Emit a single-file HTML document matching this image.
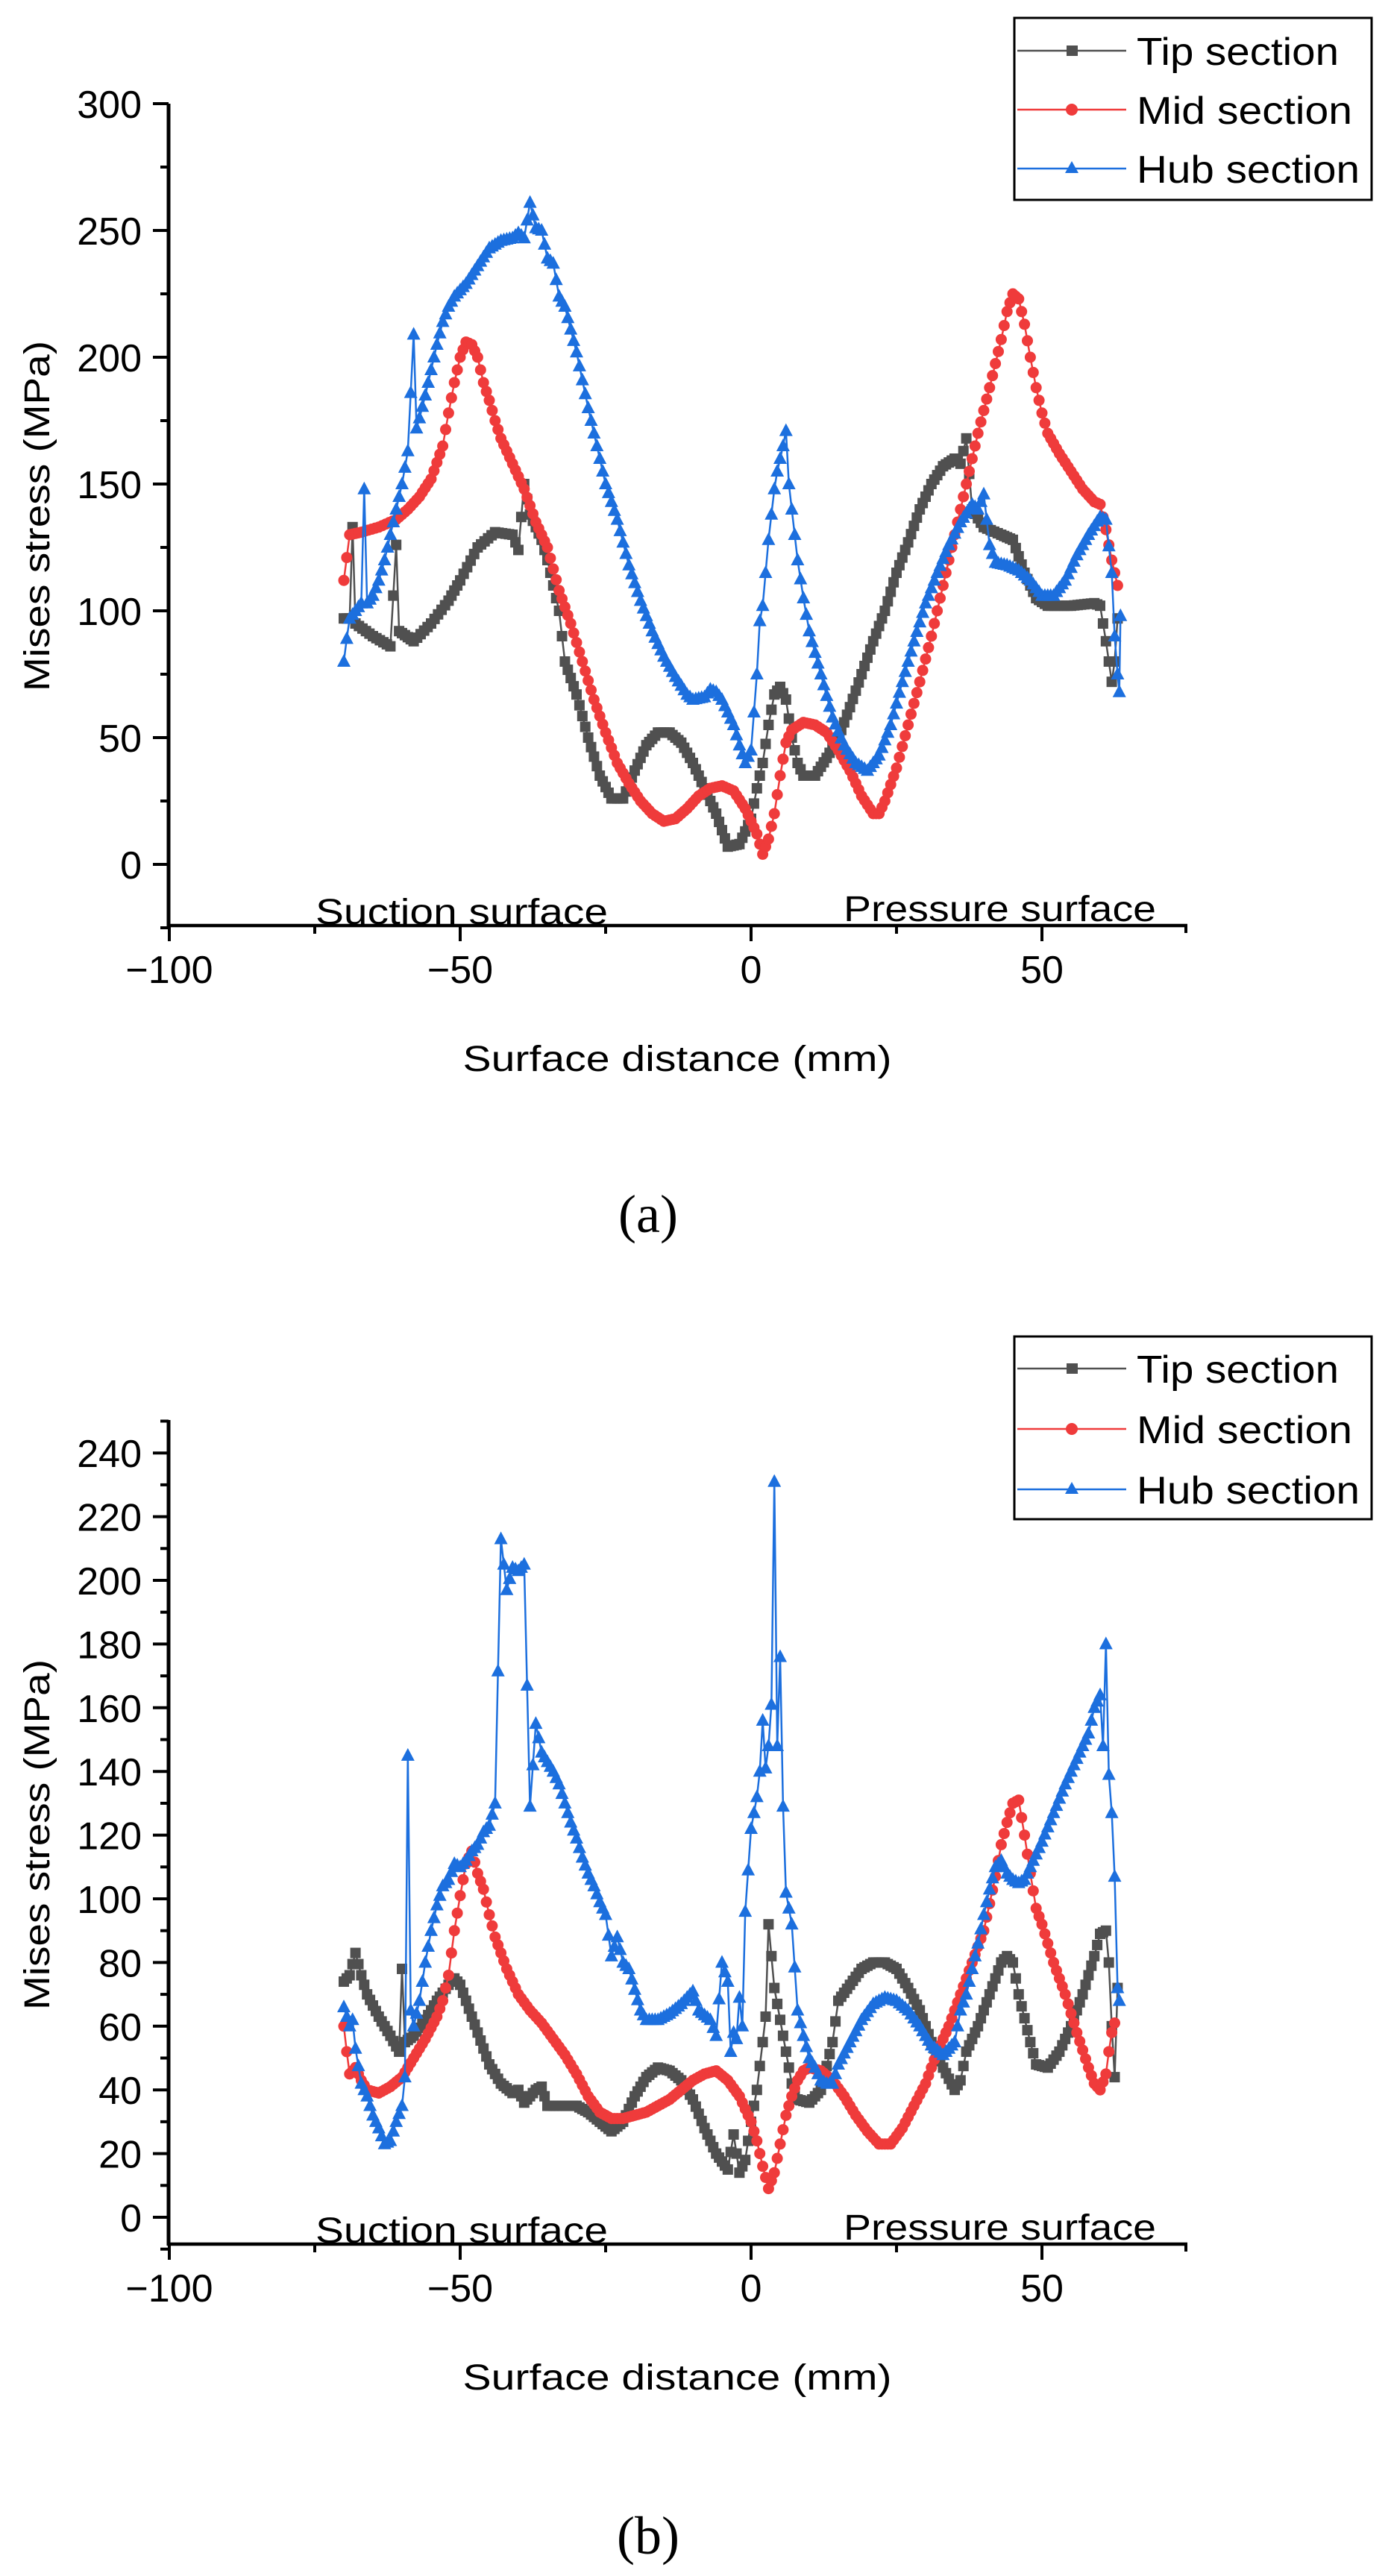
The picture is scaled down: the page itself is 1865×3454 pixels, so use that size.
<!DOCTYPE html>
<html><head><meta charset="utf-8">
<style>
html,body{margin:0;padding:0;background:#fff;}
svg{display:block;}
text{font-family:"Liberation Sans","Noto Sans CJK JP",sans-serif;fill:#000;}
</style></head>
<body>
<svg id="s" width="1865" height="3454" viewBox="0 0 1865 3454" xmlns="http://www.w3.org/2000/svg">
<rect width="1865" height="3454" fill="#fff"/>
<g id="ga"></g>
<g id="gb"></g>
<text x="869" y="1652" text-anchor="middle" style="font-family:'Liberation Serif',serif;font-size:72px">(a)</text>
<text x="869" y="3424" text-anchor="middle" style="font-family:'Liberation Serif',serif;font-size:72px">(b)</text>
</svg>
<script>
var NS="http://www.w3.org/2000/svg";
function el(p,t,a,txt){var e=document.createElementNS(NS,t);for(var k in a)e.setAttribute(k,a[k]);if(txt!==undefined)e.textContent=txt;p.appendChild(e);return e;}
function X(v){return 227+7.8*(v+100);}
function P(str){return str.trim().split(/\s*,\s*/).map(function(s){var q=s.split(':');return [+q[0],+q[1]];});}
function dens(pts){var o=[];for(var i=0;i<pts.length;i++){o.push(pts[i]);if(i<pts.length-1){var a=pts[i],b=pts[i+1],d=b[0]-a[0];var n=Math.round(d/0.55);for(var j=1;j<n;j++){var t=j/n;o.push([a[0]+d*t,a[1]+(b[1]-a[1])*t]);}}}return o;}
var C={tip:"#505050",mid:"#ef3b3b",hub:"#1c6fde"};
function series(g,pts,Y,kind){
  var col=C[kind];var d=pts.map(function(p,i){return (i?"L":"M")+X(p[0]).toFixed(1)+" "+Y(p[1]).toFixed(1);}).join("");
  el(g,"path",{d:d,fill:"none",stroke:col,"stroke-width":2.5});
  dens(pts).forEach(function(p){var x=X(p[0]),y=Y(p[1]);
    if(kind=="tip")el(g,"rect",{x:x-7,y:y-7,width:14,height:14,fill:col});
    else if(kind=="mid")el(g,"circle",{cx:x,cy:y,r:7.5,fill:col});
    else el(g,"path",{d:"M"+x+" "+(y-10)+"L"+(x+9)+" "+(y+7)+"L"+(x-9)+" "+(y+7)+"Z",fill:col});
  });
}
function chart(g,o){
  var Y=o.Y;
  el(g,"line",{x1:226,y1:o.top,x2:226,y2:o.bot+2,stroke:"#000","stroke-width":5});
  el(g,"line",{x1:224,y1:o.bot,x2:1592,y2:o.bot,stroke:"#000","stroke-width":4.5});
  el(g,"line",{x1:1590,y1:o.bot,x2:1590,y2:o.bot+10,stroke:"#000","stroke-width":4});
  [-100,-50,0,50].forEach(function(v){var x=X(v);el(g,"line",{x1:x,y1:o.bot,x2:x,y2:o.bot+21,stroke:"#000","stroke-width":4});
    el(g,"text",{x:x,y:o.bot+77,"text-anchor":"middle","font-size":52},v<0?"\u2212"+(-v):""+v);});
  [-75,-25,25].forEach(function(v){var x=X(v);el(g,"line",{x1:x,y1:o.bot,x2:x,y2:o.bot+11,stroke:"#000","stroke-width":4});});
  for(var v=o.y0;v<=o.y1+0.01;v+=o.minor){var y=Y(v);var maj=Math.abs(v/o.major-Math.round(v/o.major))<1e-6;
    el(g,"line",{x1:226,y1:y,x2:maj?205:215,y2:y,stroke:"#000","stroke-width":4});
    if(maj&&v>=0)el(g,"text",{x:190,y:y+19,"text-anchor":"end","font-size":52},""+v);}
  el(g,"text",{x:0,y:0,"font-size":48,"text-anchor":"middle",transform:"translate(66,"+o.ymid+") rotate(-90)",textLength:470,lengthAdjust:"spacingAndGlyphs"},"Mises stress (MPa)");
  el(g,"text",{x:908,y:o.bot+195,"font-size":48,"text-anchor":"middle",textLength:575,lengthAdjust:"spacingAndGlyphs"},"Surface distance (mm)");
  el(g,"text",{x:423,y:o.bot-2,"font-size":48,textLength:392,lengthAdjust:"spacingAndGlyphs"},"Suction surface");
  el(g,"text",{x:1131,y:o.bot-6,"font-size":48,textLength:419,lengthAdjust:"spacingAndGlyphs"},"Pressure surface");
  el(g,"rect",{x:1360,y:o.lt,width:479,height:o.lh,fill:"#fff",stroke:"#000","stroke-width":3});
  var names=[["tip","Tip section",271],["mid","Mid section",289],["hub","Hub section",299]];
  names.forEach(function(n,i){var y=o.lr[i],col=C[n[0]];
    el(g,"line",{x1:1364,y1:y,x2:1510,y2:y,stroke:col,"stroke-width":2.5});
    if(i==0)el(g,"rect",{x:1430,y:y-7,width:15,height:14,fill:col});
    else if(i==1)el(g,"circle",{cx:1437,cy:y,r:8,fill:col});
    else el(g,"path",{d:"M1437 "+(y-10)+"L1446 "+(y+6)+"L1428 "+(y+6)+"Z",fill:col});
    el(g,"text",{x:1524,y:y+19,"font-size":52,textLength:n[2],lengthAdjust:"spacingAndGlyphs"},n[1]);});
  series(g,o.tip,Y,"tip");series(g,o.mid,Y,"mid");series(g,o.hub,Y,"hub");
}
var A={top:139,bot:1241,Y:function(v){return 1159-3.4*v;},y0:-25,y1:300,minor:25,major:50,ymid:692,lt:24,lh:244,lr:[68,147,226],
tip:P("-70:97,-69:97,-68.5:133,-68:95,-65:90,-62:86,-61:126,-60.5:92,-58:88,-55:95,-52:104,-50:112,-47:125,-44:131,-41:130,-40:124,-39:150,-38:138,-36:128,-35:120,-33:100,-32:80,-30:67,-28:50,-26:35,-24:26,-22:26,-20:37,-18:47,-16:52,-14:52,-12:48,-10:40,-8:30,-6:20,-4:7,-2:8,0:18,1:30,2:40,3:55,4:67,5:70,6:65,7:50,8:40,9:35,11:35,13:42,15:50,17:62,19:75,21:88,23:100,25:115,27:127,29:140,31:150,33:157,35:160,36:158,37:168,38:140,40:133,43:130,45:128,47:115,49:105,51:102,55:102,59:103,60:102,61:88,62:72,62.5:80,63:97"),
mid:P("-70:112,-69.5:121,-69:130,-67:131,-64:133,-61:136,-59:140,-57:145,-55:152,-53:165,-52:178,-51:190,-50:200,-49:206,-48:205,-47:200,-46:190,-45:183,-44:175,-43:168,-41:158,-39:148,-37:135,-35:125,-33:108,-31:95,-29:80,-27:65,-25:52,-23:40,-21:32,-19:25,-17:20,-15:17,-13:18,-11:22,-9:27,-7:30,-5:31,-3:29,-1:22,1:12,2:4,3:10,4:20,5:35,6:48,7:53,9:56,11:55,13:52,15:45,17:37,19:27,21:20,22:20,23:25,25:38,27:55,29:72,31:90,33:110,35:130,37:150,39:170,41:188,43:207,44:218,45:225,46:223,47:213,48:200,49:188,50:178,51:170,53:162,55:155,57:148,59:143,60:142,61:132,62:120,63:110"),
hub:P("-70:80,-69.5:89,-69:97,-68:100,-67:103,-66.5:148,-66:103,-65:106,-64:112,-63:120,-62:130,-61:140,-60:150,-59:163,-58:209,-57.5:172,-57:176,-56:185,-55:195,-54:205,-53:214,-52:220,-51:224,-49:229,-47:236,-45:243,-43:246,-41:247,-40:249,-39:247,-38:261,-37:251,-36:250,-35:239,-34:237,-33:224,-32:220,-31:211,-30:202,-29:191,-28:180,-27:170,-26:160,-25:150,-23:136,-21:118,-19:104,-17:92,-15:82,-13:74,-11:67,-10:65,-8:66,-7:69,-6:68,-5:65,-4:60,-3:55,-2:47,-1:40,0:45,0.5:60,1:75,1.5:96,2:102,3:128,4:148,4.5:155,5:160,5.5:165,6:171,6.5:150,7:140,8:120,9:105,10:92,12:75,14:58,16:47,18:40,20:37,22:43,24:55,26:72,28:88,30:103,32:115,34:126,36:135,38:142,39:140,40:146,41:126,42:119,44:118,46:116,48:112,50:106,52:106,54:112,56:122,58:130,60:137,61:136,62:115,62.5:90,63:75,63.3:68,63.5:98")};
var B={top:1904,bot:3009,Y:function(v){return 2973-4.27*v;},y0:-10,y1:250,minor:10,major:20,ymid:2460,lt:1792,lh:245,lr:[1835,1916,1997],
tip:P("-70:74,-69:76,-68:83,-67:76,-66:70,-64:63,-62:57,-60.5:52,-60:78,-59.5:55,-58:57,-56:62,-54:68,-52:73,-51:75,-50:73,-49:68,-47:58,-45:48,-43:42,-41:39,-40:40,-39:36,-37:40,-36:41,-35:35,-33:35,-30:35,-28:33,-26:30,-24:27,-22:30,-20:38,-18:44,-16:47,-14:46,-12:43,-10:37,-8:28,-6:20,-4:15,-3:26,-2:14,-1:18,0:30,1:40,2:55,2.5:63,3:92,3.5:82,4:72,5:62,6:52,7:42,8:37,10:36,12:40,14:55,15:68,17:73,19:78,21:80,23:80,25:78,27:72,29:65,31:55,33:47,35:40,36:43,37:52,39:60,41:70,43:80,44:82,45:80,46:70,48:55,49:48,51:47,53:52,55:60,57:70,59:82,60:89,61:90,61.5:80,62:60,62.5:44,63:72"),
mid:P("-70:60,-69.5:52,-69:45,-68:47,-67:43,-66:40,-64:39,-62:41,-60:44,-58:50,-56:56,-54:63,-53:68,-52:76,-51:90,-50:101,-49:111,-48:115,-47:108,-46:103,-45:95,-44:88,-42:78,-40:70,-38:65,-36:61,-34:56,-32:51,-30:45,-28:38,-26:33,-24:31,-22:31,-20:32,-18:33,-16:35,-14:37,-12:40,-10:43,-8:45,-6:46,-4:43,-2:38,0:30,1:24,2:16,3:9,4:14,5:23,6:32,7:38,8:43,9:46,10:47,12:46,14:43,16:38,18:32,20:27,22:23,24:23,26:28,28:35,30:42,32:52,34:60,36:70,38:80,40:90,42:107,43:117,44:124,45:130,46:131,47:120,48:108,49:97,50:92,52:80,54:70,56:58,58:47,59:42,60:40,61:45,61.5:52,62:58,62.5:61"),
hub:P("-70:66,-69.5:63,-69:60,-68.5:62,-68:53,-67:42,-66:38,-65:32,-64:28,-63:23,-62:24,-61:30,-60:35,-59.5:44,-59:145,-58.5:65,-58:60,-57:68,-56:80,-55:90,-54:98,-53:104,-52:106,-51:111,-50:110,-49:112,-48:115,-47:117,-46:121,-45:123,-44:130,-43:213,-42:197,-41:204,-40:203,-39:205,-38:129,-37:155,-36:146,-35:143,-34:140,-33:136,-32:130,-31:124,-30:119,-29:113,-28:108,-27:104,-26:99,-25:95,-24:82,-23:88,-22:80,-21:78,-19:65,-18:62,-16:62,-14:64,-12:67,-10:71,-9:65,-7:62,-6:57,-5:80,-4:74,-3.5:52,-3:58,-2.5:56,-2:69,-1.5:60,-1:96,0:122,1:132,1.5:140,2:156,2.5:141,3:148,3.5:161,4:231,4.5:148,5:176,5.5:129,6:102,7:92,8:65,9:57,10:50,11:47,12:43,13:42,14:42,15:48,17:55,19:62,21:67,23:69,25:68,27:65,29:60,31:54,33:51,35:55,36:65,37:70,38:78,39:86,40:95,41:103,42:110,43:112,44:108,45:106,46:105,47:106,48:110,50:118,52:127,54:136,56:144,58:152,59:160,60:164,60.5:148,61:180,61.5:139,62:127,62.5:107,63:72,63.3:68")};
chart(document.getElementById("ga"),A);
chart(document.getElementById("gb"),B);
</script>
</body></html>
